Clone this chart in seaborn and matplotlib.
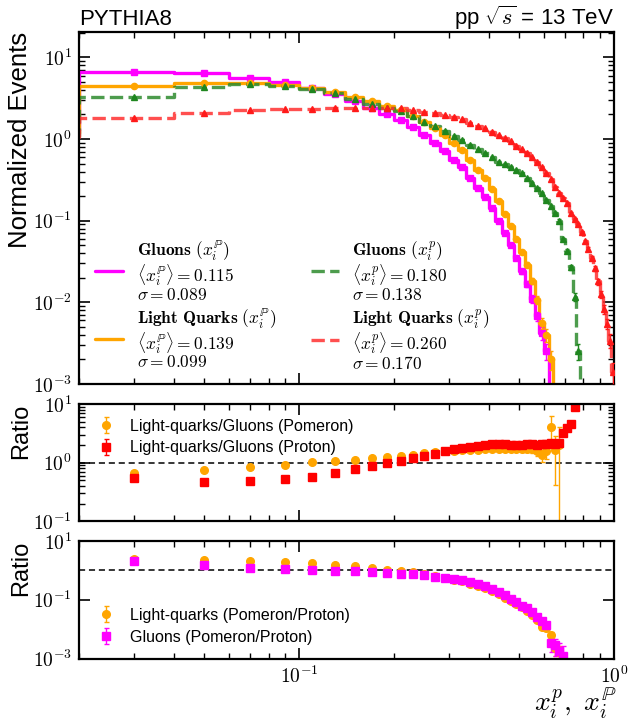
import numpy as np
import matplotlib
matplotlib.use("Agg")
import matplotlib.pyplot as plt
import seaborn as sns
from matplotlib.lines import Line2D
from matplotlib.ticker import LogLocator, NullLocator, NullFormatter, FuncFormatter, FixedLocator

sns.set_theme(style="ticks")
plt.rcParams["font.family"] = ["Liberation Sans", "DejaVu Sans"]
plt.rcParams["mathtext.fontset"] = "cm"
for key in ["axes.edgecolor", "xtick.color", "ytick.color", "text.color", "axes.labelcolor"]:
    plt.rcParams[key] = "black"

# 50 equal-width bins of momentum fraction on [0, 1]
bin_edges = np.linspace(0.0, 1.0, 51)
bin_width = 0.02
bin_centers = 0.5 * (bin_edges[:-1] + bin_edges[1:])

# Normalized event densities per bin (bin centres 0.01, 0.03, ..., 0.99)
gluons_pomeron = np.array([
    1.30, 6.67, 6.49, 5.64, 4.96, 4.19, 3.55, 2.94, 2.42, 2.02,
    1.72, 1.41, 1.11, 0.89, 0.72, 0.56, 0.45, 0.335, 0.25, 0.193,
    0.142, 0.100, 0.070, 0.050, 0.035, 0.024, 0.017, 0.011, 0.0068, 0.0042,
    0.0025, 0.0005, 0.00037, 0.00018, 0.00007, 0, 0, 0, 0, 0,
    0, 0, 0, 0, 0, 0, 0, 0, 0, 0])
lightq_pomeron = np.array([
    1.20, 4.47, 4.80, 4.82, 4.59, 4.25, 3.73, 3.29, 2.90, 2.53,
    2.25, 1.93, 1.62, 1.35, 1.13, 0.90, 0.73, 0.555, 0.42, 0.33,
    0.245, 0.172, 0.120, 0.085, 0.060, 0.041, 0.029, 0.0185, 0.0108, 0.0056,
    0.0040, 0.0020, 0.0006, 0.00036, 0, 0, 0, 0, 0, 0,
    0, 0, 0, 0, 0, 0, 0, 0, 0, 0])
gluons_proton = np.array([
    1.10, 3.28, 4.38, 4.68, 4.47, 4.07, 3.64, 3.07, 2.67, 2.39,
    2.23, 1.89, 1.64, 1.45, 1.27, 1.10, 0.98, 0.85, 0.755, 0.675,
    0.60, 0.53, 0.49, 0.46, 0.415, 0.38, 0.33, 0.29, 0.255, 0.22,
    0.18, 0.15, 0.124, 0.100, 0.059, 0.043, 0.027, 0.0117, 0.0025, 0.0006,
    0, 0, 0, 0, 0, 0, 0, 0, 0, 0])
lightq_proton = np.array([
    1.05, 1.82, 2.06, 2.25, 2.35, 2.33, 2.42, 2.39, 2.38, 2.39,
    2.41, 2.27, 2.15, 2.06, 1.98, 1.88, 1.74, 1.57, 1.45, 1.35,
    1.23, 1.11, 1.02, 0.94, 0.83, 0.75, 0.68, 0.60, 0.52, 0.46,
    0.38, 0.32, 0.26, 0.22, 0.19, 0.165, 0.125, 0.105, 0.090, 0.072,
    0.056, 0.045, 0.035, 0.026, 0.018, 0.0125, 0.0083, 0.0055, 0.0034, 0.0014])

# generated events per sample, used for the Poisson error bars
n_generated = 4e5

legend_gluons_pom = (r"$\mathbf{Gluons}\ (x_i^{\mathbb{P}})$" "\n"
                     r"$\langle x_i^{\mathbb{P}}\rangle = 0.115$" "\n" r"$\sigma = 0.089$")
legend_lightq_pom = (r"$\mathbf{Light\ Quarks}\ (x_i^{\mathbb{P}})$" "\n"
                     r"$\langle x_i^{\mathbb{P}}\rangle = 0.139$" "\n" r"$\sigma = 0.099$")
legend_gluons_p = (r"$\mathbf{Gluons}\ (x_i^{p})$" "\n"
                   r"$\langle x_i^{p}\rangle = 0.180$" "\n" r"$\sigma = 0.138$")
legend_lightq_p = (r"$\mathbf{Light\ Quarks}\ (x_i^{p})$" "\n"
                   r"$\langle x_i^{p}\rangle = 0.260$" "\n" r"$\sigma = 0.170$")


def counts(v):
    return v * n_generated * bin_width


def poisson_err(v):
    c = counts(v)
    return np.where(c > 0, np.sqrt(np.clip(c, 0, None)) / (n_generated * bin_width), 0.0)


def ratio_with_err(num, den):
    ok = (num > 0) & (den > 0)
    r = np.full(num.shape, np.nan)
    e = np.full(num.shape, np.nan)
    r[ok] = num[ok] / den[ok]
    e[ok] = r[ok] * np.sqrt(1.0 / counts(num[ok]) + 1.0 / counts(den[ok]))
    return r, e


fig = plt.figure(figsize=(6.29, 7.2), dpi=100)
ax_main = fig.add_axes([0.1256, 0.4667, 0.8505, 0.4889])
ax_r1 = fig.add_axes([0.1256, 0.2757, 0.8505, 0.1632], sharex=ax_main)
ax_r2 = fig.add_axes([0.1256, 0.0854, 0.8505, 0.1632], sharex=ax_main)

dashes = (0, (4, 1.6))
series = [
    (gluons_pomeron, "#ff00ff", "-", 1.0, "s", 4.5, "#ff00ff"),
    (lightq_pomeron, "#ffa500", "-", 1.0, "o", 4.5, "#ffa500"),
    (gluons_proton, "#2e8b2e", dashes, 0.85, "^", 5.0, "#1f861f"),
    (lightq_proton, "#ff3030", dashes, 0.85, "^", 5.0, "#ff1a1a"),
]
for values, color, ls, alpha, marker, ms, mcolor in series:
    drawn = np.where(values > 0, values, 1e-9)
    sns.lineplot(x=bin_edges, y=np.append(drawn, drawn[-1]), drawstyle="steps-post",
                 color=color, linestyle=ls, linewidth=2.4, alpha=alpha,
                 estimator=None, sort=False, legend=False, ax=ax_main)
    m = values > 0
    ax_main.errorbar(bin_centers[m], values[m], yerr=poisson_err(values)[m], fmt=marker,
                     color=mcolor, ms=ms, elinewidth=1.0, capsize=1.5, capthick=1.0,
                     linestyle="none", zorder=3)

# Ratio panel: light quarks over gluons
r_pom, e_pom = ratio_with_err(lightq_pomeron, gluons_pomeron)
r_pro, e_pro = ratio_with_err(lightq_proton, gluons_proton)
ax_r1.errorbar(bin_centers, r_pom, yerr=e_pom, fmt="o", color="#ffa500", ms=5.5,
               elinewidth=1.0, capsize=1.8, capthick=1.0, label="Light-quarks/Gluons (Pomeron)")
ax_r1.errorbar(bin_centers, r_pro, yerr=e_pro, fmt="s", color="#ff0000", ms=5.5,
               elinewidth=1.0, capsize=1.8, capthick=1.0, label="Light-quarks/Gluons (Proton)")

# Ratio panel: pomeron over proton
r_lq, e_lq = ratio_with_err(lightq_pomeron, lightq_proton)
r_gl, e_gl = ratio_with_err(gluons_pomeron, gluons_proton)
ax_r2.errorbar(bin_centers, r_lq, yerr=e_lq, fmt="o", color="#ffa500", ms=5.5,
               elinewidth=1.0, capsize=1.8, capthick=1.0, label="Light-quarks (Pomeron/Proton)")
ax_r2.errorbar(bin_centers, r_gl, yerr=e_gl, fmt="s", color="#ff00ff", ms=5.5,
               elinewidth=1.0, capsize=1.8, capthick=1.0, label="Gluons (Pomeron/Proton)")

for ax in (ax_r1, ax_r2):
    ax.axhline(1.0, color="black", linestyle=(0, (4, 2.5)), linewidth=1.1, zorder=1)

ax_main.set_xscale("log")
for ax in (ax_main, ax_r1, ax_r2):
    ax.set_yscale("log")

ax_main.set_xlim(0.02, 1.0)
ax_main.set_ylim(1e-3, 20.5)
ax_r1.set_ylim(0.1, 10)
ax_r2.set_ylim(1e-3, 10)


def pow10(v, pos):
    return r"$10^{%d}$" % int(round(np.log10(v)))


fmt = FuncFormatter(pow10)
ax_main.xaxis.set_major_locator(FixedLocator([0.1, 1.0]))
ax_main.xaxis.set_minor_locator(LogLocator(base=10, subs=np.arange(2, 10), numticks=20))
ax_main.xaxis.set_major_formatter(fmt)
ax_main.xaxis.set_minor_formatter(NullFormatter())

for ax in (ax_main, ax_r1):
    ax.yaxis.set_major_locator(LogLocator(base=10, numticks=20))
    ax.yaxis.set_minor_locator(LogLocator(base=10, subs=np.arange(2, 10), numticks=20))
ax_r2.yaxis.set_major_locator(FixedLocator([1e-3, 1e-1, 1e1]))
ax_r2.yaxis.set_minor_locator(NullLocator())

for ax in (ax_main, ax_r1, ax_r2):
    ax.yaxis.set_major_formatter(fmt)
    ax.yaxis.set_minor_formatter(NullFormatter())
    ax.tick_params(which="both", direction="in", top=True, right=True, labelsize=14)
    ax.tick_params(which="major", length=8, width=1.2, pad=5)
    ax.tick_params(which="minor", length=4.5, width=1.0)
    for sp in ax.spines.values():
        sp.set_linewidth(1.6)

ax_main.tick_params(labelbottom=False)
ax_r1.tick_params(labelbottom=False)

ax_main.set_ylabel("Normalized Events", fontsize=18.5, loc="top")
ax_main.yaxis.set_label_coords(-0.088, 1.0)
for ax in (ax_r1, ax_r2):
    ax.set_ylabel("Ratio", fontsize=17, loc="top")
    ax.yaxis.set_label_coords(-0.088, 1.0)

ax_r2.set_xlabel(r"$x_i^{p},\ x_i^{\mathbb{P}}$", fontsize=20, loc="right")
ax_r2.xaxis.set_label_coords(1.005, -0.23)
ax_r2.xaxis.label.set_verticalalignment("top")

ax_main.set_title("PYTHIA8", loc="left", fontsize=16, pad=5)
ax_main.set_title(r"pp $\sqrt{s}$ = 13 TeV", loc="right", fontsize=16, pad=5)

handles = [
    Line2D([], [], color="#ff00ff", linestyle="-", linewidth=2.4),
    Line2D([], [], color="#ffa500", linestyle="-", linewidth=2.4),
    Line2D([], [], color="#2e8b2e", linestyle=dashes, linewidth=2.4, alpha=0.85),
    Line2D([], [], color="#ff3030", linestyle=dashes, linewidth=2.4, alpha=0.85),
]
labels = [legend_gluons_pom, legend_lightq_pom, legend_gluons_p, legend_lightq_p]
leg = ax_main.legend(handles, labels, ncol=2, loc="upper left", bbox_to_anchor=(0.03, 0.41),
                     frameon=False, borderpad=0, borderaxespad=0, fontsize=12.5,
                     handlelength=1.6, handletextpad=0.8, columnspacing=2.0, labelspacing=0.3)
for t in leg.get_texts():
    t.set_linespacing(0.92)

ax_r1.legend(loc="upper left", bbox_to_anchor=(0.036, 0.875), frameon=False, borderpad=0,
             borderaxespad=0, fontsize=11.5, handlelength=1.0, handletextpad=1.0,
             labelspacing=0.42)
ax_r2.legend(loc="upper left", bbox_to_anchor=(0.036, 0.43), frameon=False, borderpad=0,
             borderaxespad=0, fontsize=11.5, handlelength=1.0, handletextpad=1.0,
             labelspacing=0.42)

fig.savefig("out.png", dpi=100)
